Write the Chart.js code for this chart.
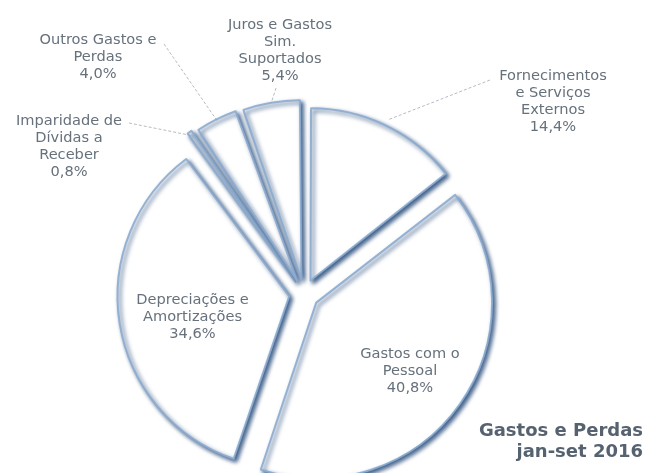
<!DOCTYPE html>
<html><head><meta charset="utf-8">
<script src="https://cdn.jsdelivr.net/npm/chart.js@4"></script>
<style>
html,body{margin:0;padding:0;background:#fff}
#wrap{width:646px;height:473px;position:relative;overflow:hidden}
#inner{position:absolute;left:-38px;top:0;width:684px;height:473px}
</style>
</head><body><div id="wrap"><div id="inner"><canvas id="c"></canvas></div></div>
<script>
const categories = [
  ["Fornecimentos","e Serviços","Externos"],
  ["Gastos com o","Pessoal"],
  ["Depreciações e","Amortizações"],
  ["Imparidade de","Dívidas a","Receber"],
  ["Outros Gastos e","Perdas"],
  ["Juros e Gastos","Sim.","Suportados"]
];
const values = [14.4, 40.8, 34.6, 0.8, 4.0, 5.4];
const valueLabels = ["14,4%","40,8%","34,6%","0,8%","4,0%","5,4%"];
const titleLines = ["Gastos e Perdas","jan-set 2016"];

// label layout (text block centre relative to pie centre) and leader line starts
const labelOffsets = [[249,-192],[106,77.5],[-111.5,23.5],[-235,-147],[-206,-237],[-24,-243.5]];
const leaderStarts = [[186,-214],null,null,[-175,-171],[-140,-250],[-28,-206]];
const FONT = 'Verdana, "DejaVu Sans", sans-serif';

const shadowPlugin = {
  id:'shadow',
  beforeDatasetsDraw(chart){
    const ctx = chart.ctx; ctx.save();
    ctx.shadowColor = 'rgba(28,65,115,0.9)';
    ctx.shadowBlur = 4; ctx.shadowOffsetX = 2.5; ctx.shadowOffsetY = 2.5;
  },
  afterDatasetsDraw(chart){ chart.ctx.restore(); }
};

const labelPlugin = {
  id:'sliceLabels',
  afterDatasetsDraw(chart){
    const ctx = chart.ctx;
    const arcs = chart.getDatasetMeta(0).data;
    ctx.save();
    arcs.forEach((arc, i) => {
      const cx = arc.x, cy = arc.y;
      const ls = leaderStarts[i];
      if (ls) {
        const mid = (arc.startAngle + arc.endAngle) / 2;
        const d = arc.outerRadius + 25;
        ctx.beginPath();
        ctx.setLineDash([3,2]);
        ctx.strokeStyle = 'rgba(150,160,172,0.7)';
        ctx.lineWidth = 1;
        ctx.moveTo(cx + ls[0], cy + ls[1]);
        ctx.lineTo(cx + Math.cos(mid) * d, cy + Math.sin(mid) * d);
        ctx.stroke();
        ctx.setLineDash([]);
      }
      const lines = categories[i].concat([valueLabels[i]]);
      const lh = 17;
      const ax = cx + labelOffsets[i][0], ay = cy + labelOffsets[i][1];
      const y0 = ay - (lines.length - 1) * lh / 2;
      ctx.font = '14.6px ' + FONT;
      ctx.fillStyle = '#66717c';
      ctx.textAlign = 'center';
      ctx.textBaseline = 'middle';
      lines.forEach((t, k) => ctx.fillText(t, ax, y0 + k * lh));
    });
    ctx.restore();
  }
};

new Chart(document.getElementById('c'), {
  type: 'pie',
  data: {
    labels: categories.map(c => c.join(' ')),
    datasets: [{
      data: values,
      backgroundColor: '#ffffff',
      borderColor: 'rgba(140,172,208,0.9)',
      borderWidth: 2,
      borderJoinStyle: 'round',
      offset: 60,
      hoverOffset: 60,
      clip: false
    }]
  },
  options: {
    responsive: true,
    maintainAspectRatio: false,
    animation: false,
    events: [],
    radius: 169,
    layout: { padding: { left: 3, right: 3, top: 167.8, bottom: 0 } },
    plugins: {
      legend: { display: false },
      tooltip: { enabled: false },
      title: {
        display: true,
        text: titleLines,
        position: 'bottom',
        align: 'end',
        color: '#56626f',
        font: { family: FONT, size: 18, weight: 'bold', lineHeight: 1.2 },
        padding: { top: 0, bottom: 9.6 }
      }
    }
  },
  plugins: [shadowPlugin, labelPlugin]
});
</script>
</body></html>
